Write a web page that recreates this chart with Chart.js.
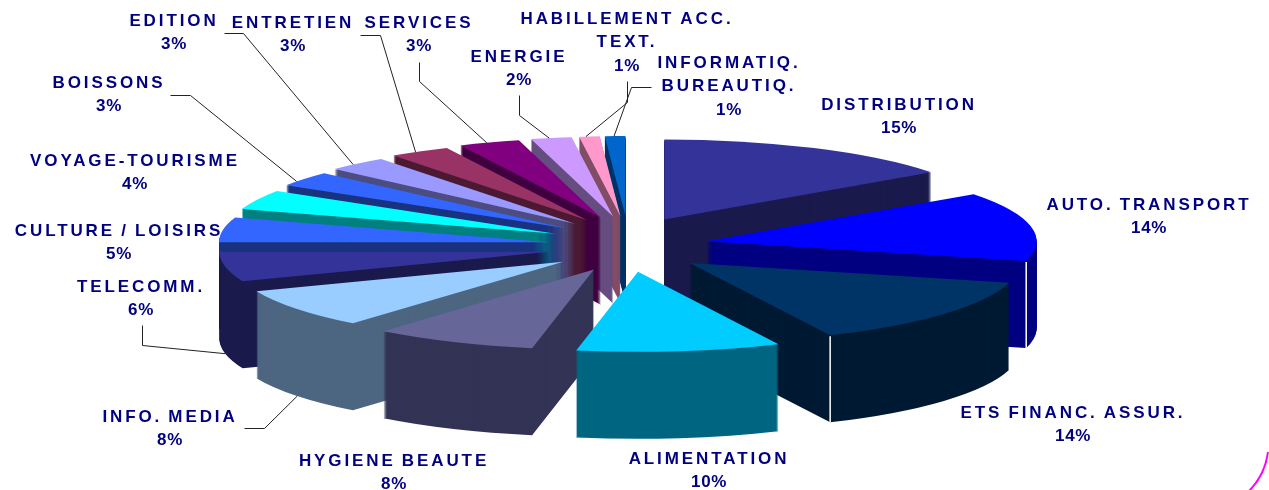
<!DOCTYPE html>
<html><head><meta charset="utf-8">
<style>html,body{margin:0;padding:0;background:#fff}canvas{display:block}</style>
<script src="https://cdn.jsdelivr.net/npm/chart.js@4/dist/chart.umd.min.js"></script>
</head><body><canvas id="c" width="1269" height="490"></canvas>
<script>
const categories = [["DISTRIBUTION"],["AUTO. TRANSPORT"],["ETS FINANC. ASSUR."],["ALIMENTATION"],["HYGIENE BEAUTE"],["INFO. MEDIA"],["TELECOMM."],["CULTURE / LOISIRS"],["VOYAGE-TOURISME"],["BOISSONS"],["EDITION"],["ENTRETIEN"],["SERVICES"],["ENERGIE"],["HABILLEMENT ACC.","TEXT."],["INFORMATIQ.","BUREAUTIQ."]];
const shares = [15,14,14,10,8,8,6,5,4,3,3,3,3,2,1,1];
const topColors = ["#333399","#0000ff","#003366","#00ccff","#666699","#99ccff","#333399","#3366ff","#00ffff","#3366ff","#9999ff","#993366","#800080","#cc99ff","#ff99cc","#0066cc"];
const sideColors = ["#1a1a4d","#000080","#001a33","#006680","#333355","#4d6680","#1a1a4d","#1a3380","#008080","#1a3380","#4d4d80","#4d1a33","#400040","#664d80","#804d66","#003366"];
const labelAt = [[899,104],[1149,204],[1073,412],[709,458],[394,460],[170,416],[141,286],[119,230],[135,160],[109,82],[174,20],[293,22],[419,22],[519,56],[627,18],[729,62]];
const leaders = [
 {slice:6, frac:.5, bottom:true, via:[[142,325],[142,345]]},
 {slice:5, frac:.49, bottom:true, via:[[244,428],[264,428]]},
 {slice:9, frac:.3, via:[[170,95],[190,95]]},
 {slice:10, frac:.42, via:[[224,33],[243,33]]},
 {slice:11, frac:.43, via:[[360,35],[380,35]]},
 {slice:12, frac:.46, via:[[419,62],[419,81]]},
 {slice:13, frac:.45, via:[[519,95],[519,115]]},
 {slice:14, frac:.33, via:[[627,81],[627,102]]},
 {slice:15, frac:.45, via:[[651,87],[631,87]]}
];
const whiteEdges = [1,2];
const CX=628, CY=247, RX=330, RY=80, EX=80, EY_FRONT=25, EY_BACK=31, DEPTH=87;

function frame(arc){
  const mid=(arc.startAngle+arc.endAngle)/2, s=Math.sin(mid);
  return {sx:RX/arc.outerRadius,sy:RY/arc.outerRadius,ax:CX+EX*Math.cos(mid),ay:CY+(s<0?EY_BACK:EY_FRONT)*s};
}
function project(arc,a,down){
  const f=frame(arc);
  return [f.ax+RX*Math.cos(a),f.ay+RY*Math.sin(a)+(down||0)];
}
function drawArc(ctx,arc,dy,color){
  const f=frame(arc), real=arc.options;
  ctx.save();
  ctx.translate(f.ax,f.ay+dy);
  ctx.scale(f.sx,f.sy);
  ctx.translate(-arc.x,-arc.y);
  arc.options=Object.assign({},real,{backgroundColor:color});
  arc.draw(ctx);
  arc.options=real;
  ctx.restore();
}
const pie3d={
  id:'pie3d',
  beforeDatasetsDraw(chart){
    const ctx=chart.ctx, arcs=chart.getDatasetMeta(0).data;
    const order=arcs.map((a,i)=>i).sort((p,q)=>frame(arcs[p]).ay-frame(arcs[q]).ay);
    order.forEach(i=>{
      const arc=arcs[i];
      for(let d=DEPTH;d>=1;d--) drawArc(ctx,arc,d,sideColors[i]);
      drawArc(ctx,arc,0,topColors[i]);
      if(whiteEdges.includes(i)){
        const t=project(arc,arc.endAngle,0), b=project(arc,arc.endAngle,DEPTH);
        ctx.save();ctx.strokeStyle='#fff';ctx.lineWidth=1.5;
        ctx.beginPath();ctx.moveTo(t[0],t[1]+1);ctx.lineTo(b[0],b[1]);ctx.stroke();ctx.restore();
      }
    });
    return false;
  },
  afterDraw(chart){
    const ctx=chart.ctx, arcs=chart.getDatasetMeta(0).data;
    ctx.save();
    ctx.strokeStyle='#222';ctx.lineWidth=1;
    leaders.forEach(l=>{
      const arc=arcs[l.slice];
      const a=arc.startAngle+(arc.endAngle-arc.startAngle)*l.frac;
      const e=project(arc,a,l.bottom?DEPTH:0);
      ctx.beginPath();
      ctx.moveTo(l.via[0][0]+.5,l.via[0][1]+.5);
      ctx.lineTo(l.via[1][0]+.5,l.via[1][1]+.5);
      ctx.lineTo(e[0],e[1]);
      ctx.stroke();
    });
    ctx.fillStyle='#000080';ctx.textAlign='center';ctx.textBaseline='middle';
    ctx.font='bold 17px "Liberation Sans", Arial, sans-serif';
    ctx.wordSpacing='-1.5px';
    categories.forEach((lines,i)=>{
      const [x,y]=labelAt[i];
      ctx.letterSpacing='2.9px';
      lines.forEach((t,k)=>ctx.fillText(t,x,y+1+k*23.5));
      ctx.letterSpacing='0.6px';
      ctx.fillText(shares[i]+'%',x,y+1+lines.length*23.5);
    });
    ctx.strokeStyle='#ff00ff';ctx.lineWidth=2;
    ctx.beginPath();ctx.moveTo(1249,491);ctx.quadraticCurveTo(1265,475,1268,452);ctx.stroke();
    ctx.restore();
  }
};
new Chart(document.getElementById('c'),{
  type:'pie',
  data:{labels:categories.map(l=>l.join(' ')),datasets:[{data:shares,backgroundColor:topColors,borderWidth:0}]},
  options:{responsive:false,animation:false,events:[],layout:{padding:0},plugins:{legend:{display:false},tooltip:{enabled:false}}},
  plugins:[pie3d]
});
</script></body></html>
